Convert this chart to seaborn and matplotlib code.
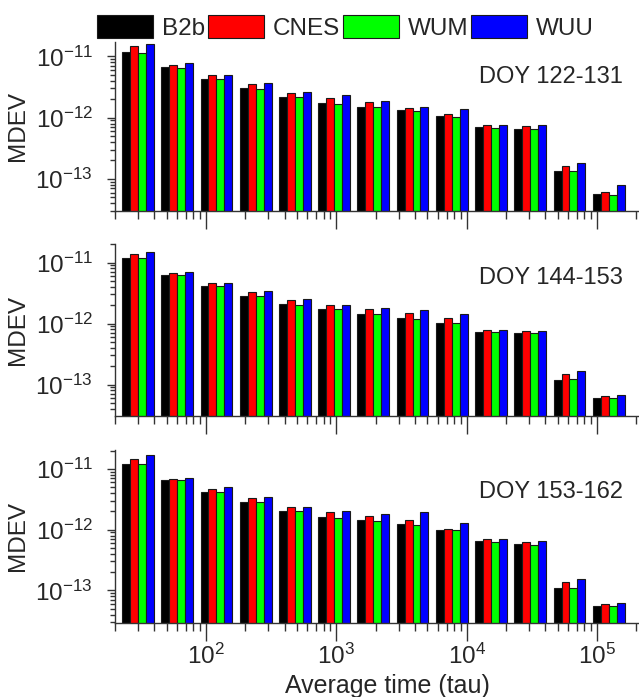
import numpy as np
import pandas as pd
import seaborn as sns
import matplotlib.pyplot as plt
from matplotlib.patches import Patch
from matplotlib.ticker import FixedLocator, LogLocator, NullFormatter

# averaging times (s), one bar group per tau
tau = [30, 60, 120, 240, 480, 960, 1920, 3840, 7680, 15360, 30720, 61440, 122880]
products = ['B2b', 'CNES', 'WUM', 'WUU']
colors = ['#000000', '#ff0000', '#00ff00', '#0000ff']
x_major = [1e2, 1e3, 1e4, 1e5]
y_major = [1e-13, 1e-12, 1e-11]

# DOY 122-131
doy_1 = 'DOY 122-131'
b2b_1 = [1.18e-11, 6.68e-12, 4.3e-12, 3.0e-12, 2.18e-12, 1.72e-12, 1.5e-12, 1.32e-12, 1.05e-12, 7.1e-13, 6.6e-13, 1.34e-13, 5.7e-14]
cnes_1 = [1.46e-11, 7.3e-12, 4.9e-12, 3.6e-12, 2.57e-12, 2.13e-12, 1.83e-12, 1.46e-12, 1.15e-12, 7.6e-13, 7.4e-13, 1.65e-13, 6.05e-14]
wum_1 = [1.15e-11, 6.5e-12, 4.25e-12, 2.95e-12, 2.15e-12, 1.68e-12, 1.48e-12, 1.3e-12, 1.03e-12, 6.9e-13, 6.5e-13, 1.37e-13, 5.5e-14]
wuu_1 = [1.57e-11, 7.7e-12, 4.95e-12, 3.7e-12, 2.64e-12, 2.34e-12, 1.9e-12, 1.48e-12, 1.37e-12, 7.7e-13, 7.7e-13, 1.81e-13, 8.1e-14]

# DOY 144-153
doy_2 = 'DOY 144-153'
b2b_2 = [1.18e-11, 6.36e-12, 4.09e-12, 2.88e-12, 2.1e-12, 1.7e-12, 1.46e-12, 1.21e-12, 1.03e-12, 7.4e-13, 7.1e-13, 1.19e-13, 6.1e-14]
cnes_2 = [1.39e-11, 6.86e-12, 4.58e-12, 3.3e-12, 2.41e-12, 2.0e-12, 1.7e-12, 1.51e-12, 1.24e-12, 7.87e-13, 7.5e-13, 1.48e-13, 6.5e-14]
wum_2 = [1.18e-11, 6.36e-12, 4.09e-12, 2.8e-12, 2.05e-12, 1.7e-12, 1.46e-12, 1.18e-12, 1.03e-12, 7.3e-13, 6.95e-13, 1.22e-13, 5.97e-14]
wuu_2 = [1.48e-11, 6.95e-12, 4.7e-12, 3.39e-12, 2.5e-12, 2.0e-12, 1.83e-12, 1.66e-12, 1.46e-12, 7.87e-13, 7.6e-13, 1.66e-13, 6.86e-14]

# DOY 153-162
doy_3 = 'DOY 153-162'
b2b_3 = [1.18e-11, 6.43e-12, 4.08e-12, 2.87e-12, 2.04e-12, 1.6e-12, 1.42e-12, 1.22e-12, 9.7e-13, 6.4e-13, 5.7e-13, 1.09e-13, 5.6e-14]
cnes_3 = [1.46e-11, 6.93e-12, 4.69e-12, 3.3e-12, 2.37e-12, 1.94e-12, 1.69e-12, 1.43e-12, 1.03e-12, 6.9e-13, 6.3e-13, 1.37e-13, 5.9e-14]
wum_3 = [1.18e-11, 6.43e-12, 4.08e-12, 2.8e-12, 2.0e-12, 1.58e-12, 1.4e-12, 1.19e-12, 9.7e-13, 6.3e-13, 5.65e-13, 1.09e-13, 5.45e-14]
wuu_3 = [1.66e-11, 7.0e-12, 5.0e-12, 3.42e-12, 2.37e-12, 2.01e-12, 1.82e-12, 1.96e-12, 1.28e-12, 7.0e-13, 6.55e-13, 1.53e-13, 6.27e-14]

panels = [
    (doy_1, [b2b_1, cnes_1, wum_1, wuu_1]),
    (doy_2, [b2b_2, cnes_2, wum_2, wuu_2]),
    (doy_3, [b2b_3, cnes_3, wum_3, wuu_3]),
]

sns.set_style('ticks')
plt.rcParams['font.family'] = ['Liberation Sans', 'DejaVu Sans']
plt.rcParams['mathtext.fontset'] = 'custom'
plt.rcParams['mathtext.rm'] = 'Liberation Sans'
plt.rcParams['mathtext.it'] = 'Liberation Sans:italic'
plt.rcParams['mathtext.bf'] = 'Liberation Sans:bold'

fig = plt.figure(figsize=(6.39, 6.97), dpi=100)

# axes boxes (left, bottom, width, height) and y limits per panel
boxes = [
    [0.18, 0.6973, 0.82, 0.2425],
    [0.18, 0.4032, 0.82, 0.2468],
    [0.18, 0.1066, 0.82, 0.2478],
]
ylims = [(3e-14, 1.72e-11), (3.05e-14, 2.02e-11), (2.95e-14, 2.04e-11)]
text_y = [0.795, 0.80, 0.758]
palette = dict(zip(products, colors))

axes = []
for i, (doy, series) in enumerate(panels):
    ax = fig.add_axes(boxes[i])
    df = pd.DataFrame({
        'tau': np.tile(tau, len(products)),
        'product': np.repeat(products, len(tau)),
        'mdev': np.concatenate(series),
    })
    # x on log scale (bars dodged in log space), y switched to log afterwards
    sns.barplot(data=df, x='tau', y='mdev', hue='product', hue_order=products,
                palette=palette, native_scale=True, log_scale=(True, False),
                width=0.81, errorbar=None, saturation=1, edgecolor='#1a1a1a',
                linewidth=0.8, legend=False, ax=ax)
    ax.set_yscale('log')
    ax.set_xlim(20, 2.1e5)
    ax.set_ylim(*ylims[i])
    ax.xaxis.set_major_locator(FixedLocator(x_major))
    ax.xaxis.set_minor_locator(LogLocator(base=10, subs=np.arange(2, 10)))
    ax.xaxis.set_minor_formatter(NullFormatter())
    ax.yaxis.set_major_locator(FixedLocator(y_major))
    ax.yaxis.set_minor_locator(LogLocator(base=10, subs=np.arange(2, 10)))
    ax.yaxis.set_minor_formatter(NullFormatter())
    ax.tick_params(axis='x', which='major', length=13, width=1, color='#333333',
                   labelsize=17.5, pad=2, labelbottom=(i == 2))
    ax.tick_params(axis='x', which='minor', length=6, width=1, color='#333333')
    ax.tick_params(axis='y', which='major', length=6, width=1, color='#333333',
                   labelsize=17.5, pad=10)
    ax.tick_params(axis='y', which='minor', length=3.5, width=1, color='#333333')
    for side in ['top', 'right']:
        ax.spines[side].set_visible(False)
    for side in ['left', 'bottom']:
        ax.spines[side].set_color('#333333')
        ax.spines[side].set_linewidth(1)
    ax.set_xlabel('')
    ax.set_ylabel('MDEV', fontsize=17.5)
    ax.yaxis.set_label_coords(-0.165, 0.5)
    ax.text(0.97, text_y[i], doy, transform=ax.transAxes, ha='right', va='center',
            fontsize=17)
    axes.append(ax)

axes[2].set_xlabel('Average time (tau)', fontsize=18)
axes[2].xaxis.set_label_coords(0.52, -0.297)

handles = [Patch(facecolor=c, edgecolor='#1a1a1a', linewidth=0.8) for c in colors]
fig.legend(handles, products, loc='center left', bbox_to_anchor=(97 / 639, 1 - 27.5 / 697),
           ncol=4, frameon=False, fontsize=17.5, handlelength=2.3, handleheight=1.1,
           handletextpad=0.37, columnspacing=0.12, borderpad=0, borderaxespad=0)

fig.savefig('out.png', dpi=100)
